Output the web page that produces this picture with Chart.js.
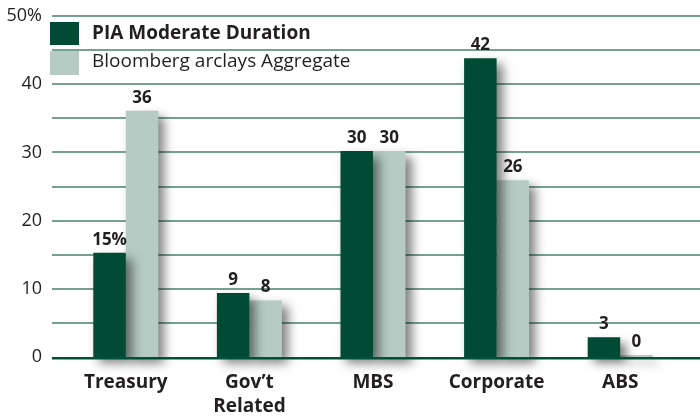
<!DOCTYPE html>
<html>
<head>
<meta charset="utf-8">
<script src="https://cdn.jsdelivr.net/npm/chart.js@4"></script>
<style>
  html, body { margin: 0; padding: 0; background: #ffffff; }
  #wrap { width: 700px; height: 418px; position: relative; }
</style>
</head>
<body>
<div id="wrap"><canvas id="c" width="700" height="418"></canvas></div>
<script>
const categories = ["Treasury", ["Gov\u2019t", "Related"], "MBS", "Corporate", "ABS"];
const seriesNames = ["PIA Moderate Duration", "Bloomberg arclays Aggregate"];
const piaValues = [15.3, 9.4, 30.2, 43.8, 2.9];
const aggValues = [36.1, 8.3, 30.2, 25.9, 0.3];
const piaLabels = ["15%", "9", "30", "42", "3"];
const aggLabels = ["36", "8", "30", "26", "0"];
const yTicks = [0, 10, 20, 30, 40, 50];

const DARK = "#014a34";
const LIGHT = "#b6cbc4";
const GRID = "#76a190";
const AXIS = "#00513a";
const TEXT = "#231f20";
const FONT = "'Open Sans', 'DejaVu Sans', sans-serif";

const gridPlugin = {
  id: "gridLines",
  beforeDatasetsDraw(chart) {
    const y = chart.scales.y, ctx = chart.ctx;
    ctx.save();
    ctx.strokeStyle = GRID;
    ctx.lineWidth = 2;
    for (let v = 5; v <= 50; v += 5) {
      const py = Math.round(y.getPixelForValue(v));
      ctx.beginPath();
      ctx.moveTo(52, py);
      ctx.lineTo(700, py);
      ctx.stroke();
    }
    ctx.restore();
  },
  afterDatasetsDraw(chart) {
    const y = chart.scales.y, ctx = chart.ctx;
    ctx.save();
    ctx.strokeStyle = AXIS;
    ctx.lineWidth = 2.5;
    const py = y.getPixelForValue(0) + 1.25;
    ctx.beginPath();
    ctx.moveTo(52, py);
    ctx.lineTo(700, py);
    ctx.stroke();
    ctx.restore();
  }
};

const shadowPlugin = {
  id: "barShadow",
  beforeDatasetDraw(chart) {
    const ctx = chart.ctx;
    ctx.save();
    ctx.shadowColor = "rgba(0,0,0,0.5)";
    ctx.shadowBlur = 10;
    ctx.shadowOffsetX = 6;
    ctx.shadowOffsetY = 6;
  },
  afterDatasetDraw(chart) {
    chart.ctx.restore();
  }
};

const labelPlugin = {
  id: "valueLabels",
  afterDatasetsDraw(chart) {
    const ctx = chart.ctx;
    const texts = [piaLabels, aggLabels];
    ctx.save();
    ctx.fillStyle = TEXT;
    ctx.font = "bold 17px " + FONT;
    ctx.textAlign = "center";
    ctx.textBaseline = "alphabetic";
    chart.data.datasets.forEach((ds, di) => {
      const meta = chart.getDatasetMeta(di);
      meta.data.forEach((el, i) => {
        ctx.fillText(texts[di][i], el.x, el.y - 8);
      });
    });
    ctx.restore();
  }
};

const legendPlugin = {
  id: "customLegend",
  afterDraw(chart) {
    const ctx = chart.ctx;
    ctx.save();
    ctx.fillStyle = DARK;
    ctx.fillRect(50, 22, 29, 23);
    ctx.fillStyle = LIGHT;
    ctx.fillRect(50, 51, 29, 24);
    ctx.fillStyle = TEXT;
    ctx.textAlign = "left";
    ctx.textBaseline = "alphabetic";
    ctx.font = "bold 19px " + FONT;
    ctx.fillText(chart.data.datasets[0].label, 92, 39);
    ctx.font = "19px " + FONT;
    ctx.fillText(chart.data.datasets[1].label, 92, 67);
    ctx.restore();
  }
};

new Chart(document.getElementById("c"), {
  type: "bar",
  data: {
    labels: categories,
    datasets: [
      { label: seriesNames[0], data: piaValues, backgroundColor: DARK, borderWidth: 0, clip: false },
      { label: seriesNames[1], data: aggValues, backgroundColor: LIGHT, borderWidth: 0, clip: false }
    ]
  },
  options: {
    responsive: false,
    animation: false,
    devicePixelRatio: 1,
    layout: { padding: { top: 16, right: 18, left: 0, bottom: 0 } },
    datasets: { bar: { categoryPercentage: 0.526, barPercentage: 1.0 } },
    plugins: { legend: { display: false }, tooltip: { enabled: false } },
    scales: {
      x: {
        grid: { display: false, drawTicks: false },
        border: { display: false },
        ticks: {
          color: TEXT,
          font: { family: FONT, size: 19, weight: "bold", lineHeight: 1.29 },
          padding: 13,
          maxRotation: 0,
          autoSkip: false
        },
        afterFit(s) { s.height = 61; s.paddingLeft = 0; s.paddingRight = 0; }
      },
      y: {
        min: 0,
        max: 50,
        grid: { display: false, drawTicks: false },
        border: { display: false },
        ticks: {
          stepSize: 10,
          autoSkip: false,
          color: TEXT,
          font: { family: FONT, size: 18 },
          padding: 22,
          callback(v) {
            if (!yTicks.includes(v)) return "";
            return v === 50 ? "50%" : String(v);
          }
        },
        afterFit(s) { s.width = 64; s.paddingTop = 0; s.paddingBottom = 0; }
      }
    }
  },
  plugins: [gridPlugin, shadowPlugin, labelPlugin, legendPlugin]
});
</script>
</body>
</html>
